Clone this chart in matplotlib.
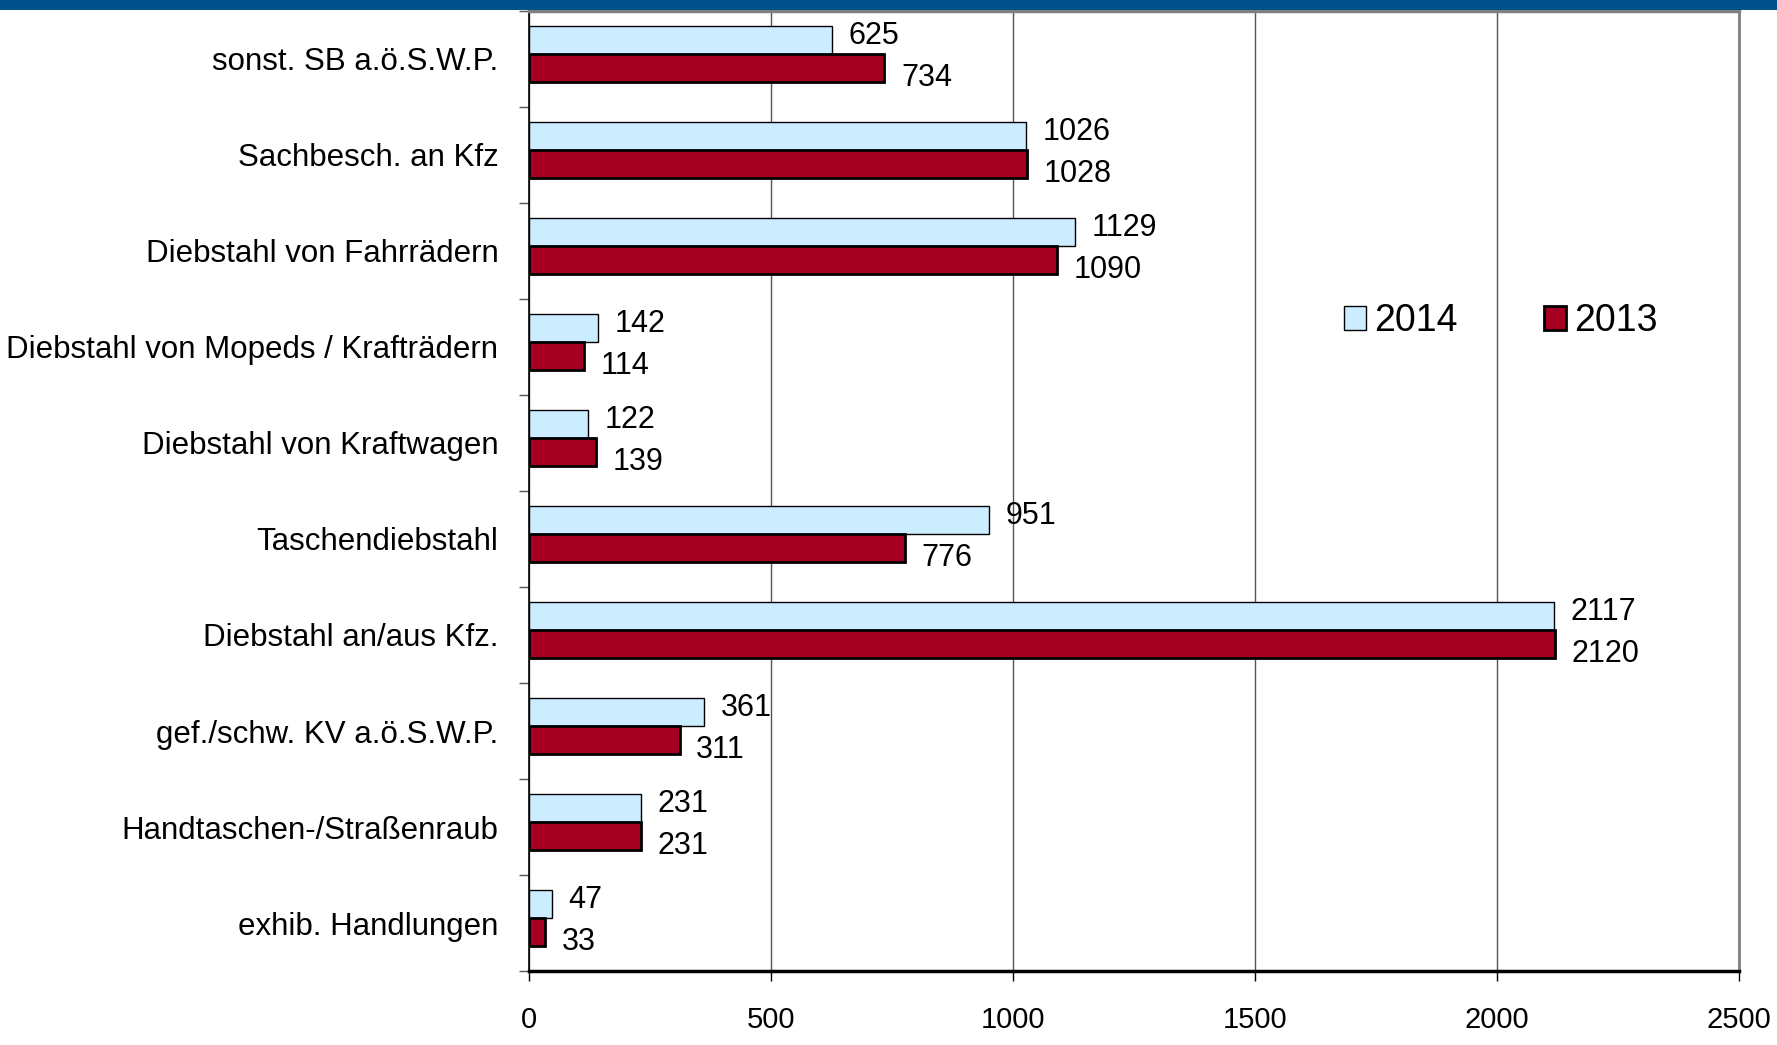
import numpy as np
import matplotlib.pyplot as plt
from matplotlib.patches import Rectangle

plt.rcParams['font.family'] = ['Liberation Sans', 'DejaVu Sans']

# categories listed top to bottom as in the chart
categories = [
    'sonst. SB a.ö.S.W.P.',
    'Sachbesch. an Kfz',
    'Diebstahl von Fahrrädern',
    'Diebstahl von Mopeds / Krafträdern',
    'Diebstahl von Kraftwagen',
    'Taschendiebstahl',
    'Diebstahl an/aus Kfz.',
    'gef./schw. KV a.ö.S.W.P.',
    'Handtaschen-/Straßenraub',
    'exhib. Handlungen',
]
values_2014 = [625, 1026, 1129, 142, 122, 951, 2117, 361, 231, 47]
values_2013 = [734, 1028, 1090, 114, 139, 776, 2120, 311, 231, 33]
x_ticks = [0, 500, 1000, 1500, 2000, 2500]

color_2014 = '#CCECFF'
color_2013 = '#A50021'

fig = plt.figure(figsize=(17.77, 10.45), dpi=100)
ax = fig.add_axes([0.2977, 0.0708, 0.6809, 0.9187])

# blue band at the very top of the slide
fig.patches.append(Rectangle((0, 0.99), 1, 0.01, transform=fig.transFigure,
                             facecolor='#00508C', edgecolor='none', zorder=0))

n = len(categories)
y = np.arange(n)[::-1] + 0.05  # first category at the top, bars sit a bit high
h = 0.29

ax.barh(y + h / 2, values_2014, height=h, color=color_2014, edgecolor='black',
        linewidth=1.0, label='2014', zorder=3)
ax.barh(y - h / 2, values_2013, height=h, color=color_2013, edgecolor='black',
        linewidth=2.0, label='2013', zorder=3)

# value labels
for yi, v in zip(y, values_2014):
    ax.annotate(str(v), (v, yi + h / 2 + 0.04), xytext=(12, 0), textcoords='offset points',
                va='center', ha='left', fontsize=22)
for yi, v in zip(y, values_2013):
    ax.annotate(str(v), (v, yi - h / 2 - 0.1), xytext=(12, 0), textcoords='offset points',
                va='center', ha='left', fontsize=22)

ax.set_xlim(0, 2500)
ax.set_ylim(-0.5, n - 0.5)

ax.set_xticks(x_ticks)
ax.set_xticklabels([str(t) for t in x_ticks], fontsize=21)
ax.tick_params(axis='x', direction='out', length=7, width=1, pad=18, color='black')

# ticks between categories, labels at the centers
ax.set_yticks(np.arange(n + 1) - 0.5)
ax.set_yticklabels([])
ax.set_yticks(np.arange(n), minor=True)
ax.set_yticklabels(categories[::-1], minor=True, fontsize=22.5)
ax.tick_params(axis='y', which='major', direction='out', length=7, width=1, color='#555555')
ax.tick_params(axis='y', which='minor', length=0, pad=22)

ax.grid(axis='x', color='#555555', linewidth=1.0, zorder=0)
ax.set_axisbelow(True)

ax.spines['left'].set_color('black')
ax.spines['left'].set_linewidth(1.2)
ax.spines['bottom'].set_color('black')
ax.spines['bottom'].set_linewidth(2.5)
ax.spines['top'].set_color('#808080')
ax.spines['top'].set_linewidth(2.5)
ax.spines['right'].set_color('#808080')
ax.spines['right'].set_linewidth(2.0)

leg = ax.legend(loc='center', bbox_to_anchor=(0.803, 0.677), ncol=2, frameon=False,
                fontsize=27, handlelength=0.6, handleheight=0.6, handletextpad=0.2,
                columnspacing=2.3)

fig.savefig('out.png', dpi=100, facecolor='white')
